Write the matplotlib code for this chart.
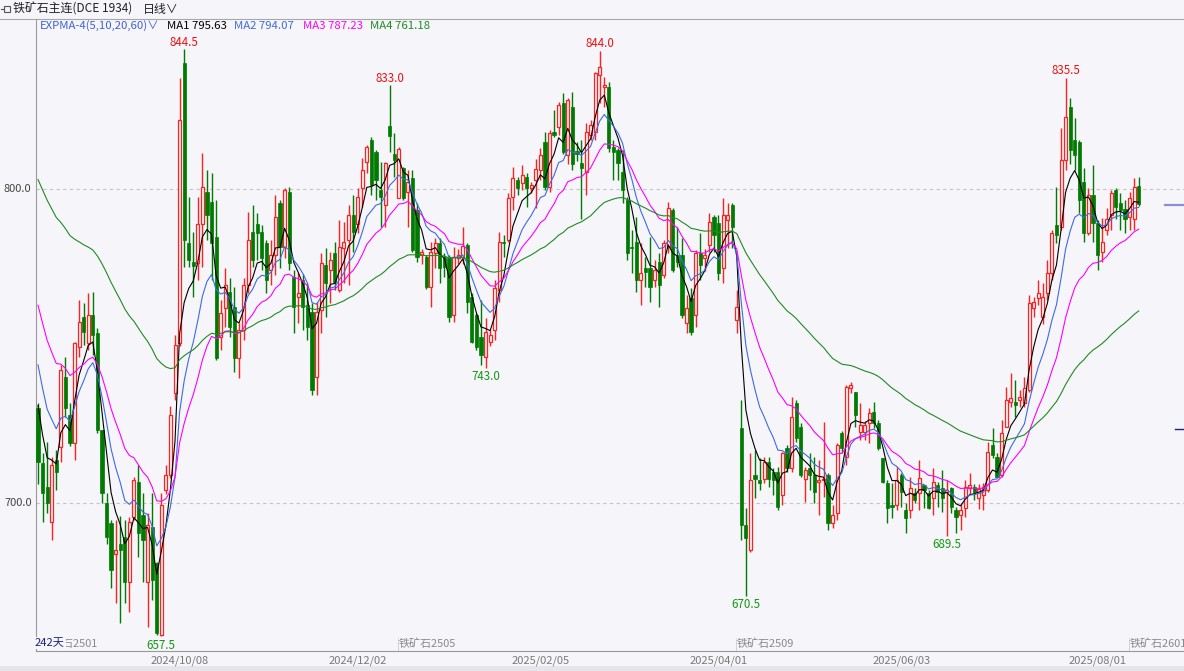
import matplotlib
matplotlib.use("Agg")
import matplotlib.pyplot as plt
import numpy as np
from matplotlib.patches import Rectangle

plt.rcParams["font.family"] = ["Noto Sans CJK SC", "DejaVu Sans"]

# ---- data (iron ore main contract, daily, 242 bars) ----
opens = [
    730.1, 712.6, 705.2, 694.0, 713.7, 717.9, 740.2, 728.0, 719.0, 749.8,
    759.3, 750.8, 759.9, 754.0, 723.2, 699.9, 693.5, 683.9, 687.1, 689.3,
    674.9, 695.6, 706.8, 696.2, 674.9, 692.4, 680.8, 657.9, 704.0, 709.0,
    735.0, 750.8, 840.2, 782.7, 776.9, 776.3, 789.0, 799.2, 796.0, 784.8,
    753.0, 762.0, 767.3, 762.5, 746.1, 755.0, 769.4, 786.4, 789.0, 786.4,
    782.7, 774.2, 779.0, 795.4, 781.6, 799.2, 772.0, 765.7, 771.0, 763.0,
    760.9, 740.2, 761.5, 775.8, 774.2, 779.5, 767.8, 781.1, 783.7, 791.7,
    789.0, 800.2, 808.7, 815.6, 811.9, 799.7, 794.9, 820.0, 811.1, 797.0,
    806.6, 799.2, 803.4, 793.3, 779.0, 778.5, 768.9, 779.5, 782.7, 778.4,
    777.9, 759.9, 778.0, 778.5, 782.2, 765.7, 759.9, 752.9, 746.6, 751.4,
    755.1, 767.8, 783.2, 783.7, 797.5, 802.9, 801.8, 803.9, 800.2, 802.8,
    806.0, 815.1, 800.7, 818.2, 819.8, 827.3, 810.8, 826.0, 812.0, 808.2,
    805.5, 817.2, 818.3, 836.3, 832.6, 832.6, 813.5, 812.4, 805.5, 796.5,
    781.6, 783.2, 771.0, 774.7, 774.7, 771.0, 776.8, 772.6, 781.6, 793.3,
    779.0, 779.0, 757.2, 765.2, 759.9, 779.5, 777.9, 782.2, 791.2, 789.1,
    774.7, 790.1, 794.9, 758.3, 723.8, 693.0, 685.0, 708.9, 707.3, 707.8,
    713.1, 710.0, 710.0, 702.5, 717.4, 711.0, 731.7, 724.3, 707.8, 711.0,
    708.9, 706.8, 707.3, 708.9, 693.5, 696.7, 722.2, 714.8, 736.5, 735.5,
    722.7, 722.7, 725.4, 729.0, 725.4, 714.2, 706.3, 699.4, 699.4, 708.9,
    697.8, 697.8, 703.1, 703.1, 705.7, 703.1, 701.5, 705.7, 704.7, 703.6,
    704.7, 697.8, 696.2, 698.3, 704.7, 705.0, 701.5, 702.5, 704.1, 718.5,
    714.8, 708.9, 724.3, 732.2, 732.2, 732.8, 731.7, 736.0, 762.0, 765.2,
    759.3, 766.8, 773.1, 788.5, 788.0, 809.2, 826.2, 815.6, 815.1, 802.3,
    785.9, 798.1, 789.1, 780.0, 786.9, 791.7, 799.7, 795.4, 793.5, 791.0,
    790.5, 801.0,
]
highs = [
    731.7, 715.8, 719.5, 714.7, 717.0, 743.9, 746.6, 732.0, 751.4, 764.6,
    763.6, 766.8, 767.3, 755.6, 723.2, 703.1, 694.5, 694.5, 696.0, 694.5,
    695.6, 708.4, 712.1, 703.1, 696.7, 703.1, 681.3, 703.1, 712.0, 731.0,
    753.5, 835.2, 844.5, 797.5, 786.4, 797.5, 811.4, 806.0, 805.0, 796.5,
    764.6, 774.7, 771.6, 768.9, 757.2, 771.6, 792.8, 794.9, 792.2, 788.5,
    783.8, 783.8, 798.1, 796.5, 800.2, 800.7, 774.2, 773.1, 773.0, 770.0,
    763.6, 764.1, 779.5, 781.1, 780.0, 783.2, 790.1, 789.6, 794.9, 798.1,
    800.2, 809.8, 814.0, 816.7, 812.4, 808.7, 808.7, 833.0, 817.7, 813.5,
    807.1, 806.0, 806.0, 795.4, 781.0, 779.0, 783.2, 784.3, 784.3, 779.5,
    779.0, 781.6, 781.0, 788.0, 782.7, 766.8, 760.4, 764.6, 758.8, 755.0,
    771.0, 786.4, 785.3, 798.6, 807.1, 803.9, 807.6, 805.0, 802.3, 809.7,
    812.9, 818.2, 818.8, 825.1, 827.8, 830.5, 828.9, 831.0, 815.0, 815.6,
    820.9, 822.0, 837.4, 844.0, 835.8, 834.2, 815.6, 813.0, 812.4, 797.5,
    786.9, 791.2, 782.7, 778.4, 784.8, 777.4, 779.5, 783.8, 795.9, 793.8,
    788.0, 784.3, 766.2, 768.4, 780.6, 785.9, 781.0, 792.2, 791.7, 791.7,
    797.0, 795.4, 795.4, 767.8, 732.8, 698.3, 715.8, 716.9, 714.2, 714.7,
    714.7, 711.0, 711.6, 716.3, 718.5, 733.9, 732.8, 725.4, 711.6, 715.8,
    714.7, 713.7, 725.9, 709.5, 699.3, 719.0, 723.0, 737.6, 738.6, 735.5,
    731.7, 726.0, 730.2, 732.2, 726.4, 714.2, 707.3, 706.3, 711.6, 709.5,
    699.9, 708.4, 704.7, 713.7, 705.7, 704.0, 711.0, 706.8, 710.5, 707.3,
    705.2, 698.8, 699.9, 707.3, 709.5, 706.0, 706.0, 706.3, 719.5, 723.8,
    715.8, 726.4, 737.0, 741.3, 739.2, 736.0, 740.2, 766.2, 765.7, 771.0,
    770.0, 777.4, 787.0, 800.7, 819.3, 835.5, 828.9, 822.5, 815.6, 806.6,
    800.2, 807.6, 790.1, 790.7, 793.8, 799.7, 800.2, 798.6, 796.5, 799.1,
    803.4, 803.9,
]
lows = [
    706.2, 694.0, 696.7, 688.2, 704.0, 713.1, 727.5, 718.0, 713.7, 746.6,
    750.3, 748.7, 747.1, 722.2, 699.9, 687.1, 672.8, 668.0, 661.7, 668.0,
    665.4, 694.5, 682.9, 674.9, 660.6, 669.0, 658.0, 657.5, 703.0, 708.0,
    732.8, 750.0, 775.3, 775.3, 765.7, 771.0, 775.3, 783.8, 771.0, 745.5,
    748.7, 756.1, 753.0, 741.8, 739.7, 752.0, 766.8, 775.3, 777.4, 774.2,
    766.8, 769.4, 772.6, 774.7, 777.9, 774.2, 754.0, 757.2, 755.0, 751.9,
    734.4, 734.4, 754.0, 759.3, 763.6, 767.8, 767.3, 770.0, 769.4, 780.0,
    785.9, 794.4, 805.0, 798.1, 796.5, 788.0, 788.0, 811.9, 803.9, 797.0,
    796.5, 788.0, 780.0, 776.9, 776.0, 768.0, 762.5, 775.0, 770.0, 772.0,
    757.7, 757.7, 776.0, 776.0, 760.4, 750.8, 748.7, 744.0, 743.0, 750.0,
    752.0, 764.1, 778.4, 783.2, 793.3, 798.1, 799.7, 794.4, 798.6, 793.8,
    802.9, 799.7, 799.1, 816.5, 817.2, 811.3, 808.0, 806.0, 809.0, 790.6,
    798.1, 815.6, 815.6, 827.3, 826.2, 811.9, 802.9, 802.9, 795.4, 777.4,
    773.1, 767.3, 763.1, 768.9, 764.1, 768.9, 762.5, 771.6, 779.5, 773.6,
    775.3, 758.8, 754.0, 753.5, 756.1, 771.0, 774.0, 780.0, 780.0, 771.0,
    770.0, 781.1, 781.1, 754.0, 688.2, 670.5, 684.5, 701.5, 704.1, 706.3,
    705.2, 702.5, 697.8, 699.3, 710.0, 710.0, 719.5, 708.4, 700.4, 704.1,
    699.9, 696.2, 702.0, 691.4, 691.9, 694.6, 716.0, 712.0, 735.0, 724.3,
    720.0, 720.0, 719.0, 724.0, 716.9, 706.3, 693.5, 695.1, 697.8, 698.8,
    690.4, 695.1, 699.9, 697.8, 698.3, 698.0, 696.2, 698.8, 697.2, 689.5,
    696.7, 690.3, 691.4, 695.6, 703.0, 701.0, 698.0, 697.8, 703.6, 714.2,
    707.9, 708.4, 724.3, 730.7, 727.5, 730.7, 730.7, 735.5, 759.3, 763.0,
    757.0, 764.6, 771.0, 782.7, 786.9, 806.0, 808.0, 806.0, 792.2, 783.2,
    785.4, 783.0, 774.2, 776.9, 785.4, 787.0, 790.6, 787.0, 786.0, 787.0,
    787.0, 794.5,
]
closes = [
    713.1, 703.1, 699.9, 712.1, 710.0, 742.3, 730.1, 719.0, 750.8, 757.7,
    754.5, 759.9, 753.5, 723.2, 703.1, 689.3, 678.6, 684.9, 685.0, 674.9,
    694.0, 707.3, 690.3, 688.2, 693.0, 675.5, 658.5, 699.3, 708.9, 728.0,
    750.3, 821.9, 783.8, 777.4, 775.5, 789.0, 800.7, 791.7, 782.7, 746.1,
    760.4, 769.4, 756.1, 746.1, 755.1, 769.4, 783.8, 777.4, 785.9, 777.9,
    771.0, 779.0, 791.2, 781.6, 799.7, 776.3, 762.5, 766.8, 762.5, 756.2,
    736.0, 760.9, 776.3, 770.0, 777.4, 770.5, 781.6, 783.2, 791.7, 786.4,
    797.5, 806.0, 813.5, 801.3, 802.9, 797.5, 808.2, 816.9, 809.2, 812.6,
    797.0, 802.3, 780.5, 778.5, 780.0, 768.9, 780.0, 782.7, 775.0, 775.2,
    759.3, 778.4, 779.0, 782.0, 764.1, 751.4, 749.8, 747.1, 754.6, 753.5,
    768.4, 783.2, 782.7, 797.0, 803.4, 800.2, 804.4, 800.2, 801.3, 806.5,
    810.8, 800.7, 817.7, 817.2, 826.7, 811.9, 828.3, 808.0, 811.0, 806.6,
    818.3, 820.4, 836.8, 839.0, 833.1, 813.0, 811.9, 808.2, 799.7, 779.5,
    781.1, 771.0, 773.1, 773.6, 768.9, 774.2, 769.4, 782.7, 793.8, 774.2,
    776.9, 759.9, 762.0, 754.6, 779.5, 775.8, 779.0, 789.4, 785.4, 773.1,
    791.7, 791.7, 788.0, 762.5, 693.0, 688.7, 707.3, 707.8, 706.3, 713.1,
    707.8, 707.3, 698.8, 715.8, 711.0, 727.5, 720.6, 708.9, 710.5, 708.9,
    703.6, 707.3, 707.8, 693.5, 696.2, 718.5, 717.4, 737.1, 737.5, 728.0,
    724.8, 724.8, 728.6, 725.4, 717.4, 706.8, 698.3, 698.8, 707.3, 703.6,
    695.1, 704.7, 701.0, 707.9, 704.1, 698.3, 706.8, 703.6, 701.5, 704.1,
    698.8, 695.6, 697.8, 705.2, 705.7, 703.5, 704.5, 705.2, 716.3, 715.3,
    708.4, 722.2, 732.8, 733.3, 731.2, 733.8, 736.5, 763.6, 764.1, 766.8,
    765.5, 773.1, 785.9, 785.4, 809.2, 823.0, 812.4, 810.8, 796.5, 785.9,
    798.1, 789.1, 779.0, 783.2, 790.6, 798.6, 794.4, 793.3, 790.5, 797.0,
    800.6, 795.2,
]

# EXPMA periods and the line values at the first bar
ema_periods = [5, 10, 20, 60]
ema_start = [731.0, 744.0, 763.0, 803.0]
ema_colors = ["#000000", "#3f6ae0", "#ff00ff", "#1e8c1e"]

date_labels = ["2024/10/08", "2024/12/02", "2025/02/05", "2025/04/01", "2025/06/03", "2025/08/01"]
date_index = [31, 70, 110, 149, 189, 232]
contract_labels = ["铁矿石2505", "铁矿石2509", "铁矿石2601"]
contract_index = [79, 153, 239]

peak_index = [32, 77, 123, 225]
trough_index = [27, 98, 155, 199]

# ---- figure ----
W, H = 1184, 671
BG = "#f5f5fa"
RED = "#ff2020"
GREEN = "#007a00"
GRAY = "#8a8a8a"

fig = plt.figure(figsize=(W / 100, H / 100), dpi=100)
fig.patch.set_facecolor(BG)


def fx(x):
    return x / W


def fy(y):
    return 1 - y / H


ax = fig.add_axes([fx(36), fy(651), fx(1184) - fx(36), fy(19) - fy(651)])
ax.set_facecolor(BG)

x0 = 38.0
step = 4.567
ax.set_xlim(-2 / step, (1184 - x0) / step)
ax.set_ylim(800 - (651 - 189) / 3.14, 800 + (189 - 19) / 3.14)
ax.set_xticks([])
ax.set_yticks([])
for s in ["top", "right"]:
    ax.spines[s].set_visible(False)
ax.spines["left"].set_color("#9a9a9a")
ax.spines["bottom"].set_color("#9a9a9a")
ax.spines["left"].set_linewidth(0.8)
ax.spines["bottom"].set_linewidth(0.8)

O = np.array(opens)
Hh = np.array(highs)
L = np.array(lows)
C = np.array(closes)
idx = np.arange(len(C))
up = C >= O
dn = ~up
lo = np.minimum(O, C)
hi = np.maximum(O, C)
hgt = np.maximum(hi - lo, 0.35)

# grid lines at 800 / 700
for level in (800, 700):
    ax.axhline(level, color="#c4c4c8", lw=0.8, ls=(0, (3, 3)), zorder=1)

# wicks
ax.vlines(idx[up], hi[up], Hh[up], color=RED, lw=1.0, zorder=3)
ax.vlines(idx[up], L[up], lo[up], color=RED, lw=1.0, zorder=3)
ax.vlines(idx[dn], L[dn], Hh[dn], color=GREEN, lw=1.0, zorder=3)
# bodies
ax.bar(idx[up], hgt[up], bottom=lo[up], width=0.66, facecolor=BG,
       edgecolor=RED, linewidth=0.9, zorder=4)
ax.bar(idx[dn], hgt[dn], bottom=lo[dn], width=0.7, facecolor=GREEN,
       edgecolor=GREEN, linewidth=0.5, zorder=4)

# EXPMA lines
for n, seed, col in zip(ema_periods, ema_start, ema_colors):
    a = 2.0 / (n + 1)
    vals = [seed]
    for c in closes[1:]:
        vals.append(a * c + (1 - a) * vals[-1])
    ax.plot(idx, vals, color=col, lw=0.8, zorder=5)

# high / low markers
for i in peak_index:
    ax.annotate(f"{highs[i]:.1f}", (i, highs[i]), xytext=(0, 7),
                textcoords="offset pixels", ha="center", va="center",
                color="#ee1111", fontsize=8.3, zorder=6)
for i in trough_index:
    ax.annotate(f"{lows[i]:.1f}", (i, lows[i]), xytext=(0, -9),
                textcoords="offset pixels", ha="center", va="center",
                color="#119911", fontsize=8.3, zorder=6)

# ---- frame, header and axis labels (pixel placed) ----
fig.add_artist(plt.Line2D([0, 1], [fy(19), fy(19)], color="#a8a8a8", lw=0.8))
fig.add_artist(Rectangle((0, 0), 1, fy(666), color="#e6e6ea", lw=0))

# small window icon
fig.add_artist(plt.Line2D([fx(1), fx(4)], [fy(9), fy(9)], color="#555", lw=0.8))
fig.add_artist(Rectangle((fx(4), fy(12)), fx(6), fy(6) - fy(12), fill=False,
                         edgecolor="#555", lw=0.8))
fig.text(fx(13), fy(9), "铁矿石主连(DCE 1934)", fontsize=8.6, color="#222",
         va="center", ha="left")
fig.text(fx(143), fy(9), "日线∨", fontsize=8.6, color="#222", va="center", ha="left")

legend_items = [
    (40, "EXPMA-4(5,10,20,60)∨", "#3f62d8"),
    (167, "MA1 795.63", "#000000"),
    (234, "MA2 794.07", "#3f6ae0"),
    (303, "MA3 787.23", "#ff00ff"),
    (370, "MA4 761.18", "#1e8c1e"),
]
for xp, txt, col in legend_items:
    fig.text(fx(xp), fy(26), txt, fontsize=8.2, color=col, va="center", ha="left")

for level in (800, 700):
    yp = 189 + (800 - level) * 3.14
    fig.text(fx(4), fy(yp), f"{level:.1f}", fontsize=8, color="#444",
             va="center", ha="left")

for lab, i in zip(date_labels, date_index):
    fig.text(fx(x0 + i * step), fy(661), lab, fontsize=8, color="#7a7a7a",
             va="center", ha="center")

# first contract label sits partly under the "242天" day count, as in the source
fig.text(fx(41), fy(644), "铁矿石2501", fontsize=7.9, color=GRAY, va="center", ha="left")
fig.text(fx(35), fy(643), "242天", fontsize=8, color="#1a237e", va="center",
         ha="left", bbox=dict(facecolor=BG, edgecolor="none", pad=0.5))
for lab, i in zip(contract_labels, contract_index):
    xp = x0 + i * step
    fig.add_artist(plt.Line2D([fx(xp - 1), fx(xp - 1)], [fy(650), fy(638)],
                              color="#b0b0b0", lw=0.7, ls=(0, (1, 1))))
    fig.text(fx(xp), fy(644), lab, fontsize=7.9, color=GRAY, va="center", ha="left")

# right-edge markers
fig.add_artist(plt.Line2D([fx(1165), fx(1184)], [fy(205), fy(205)], color="#8f8fcf", lw=1.6))
fig.add_artist(plt.Line2D([fx(1175), fx(1184)], [fy(429), fy(429)], color="#1a237e", lw=1.0))

fig.savefig("out.png", dpi=100, facecolor=BG)
